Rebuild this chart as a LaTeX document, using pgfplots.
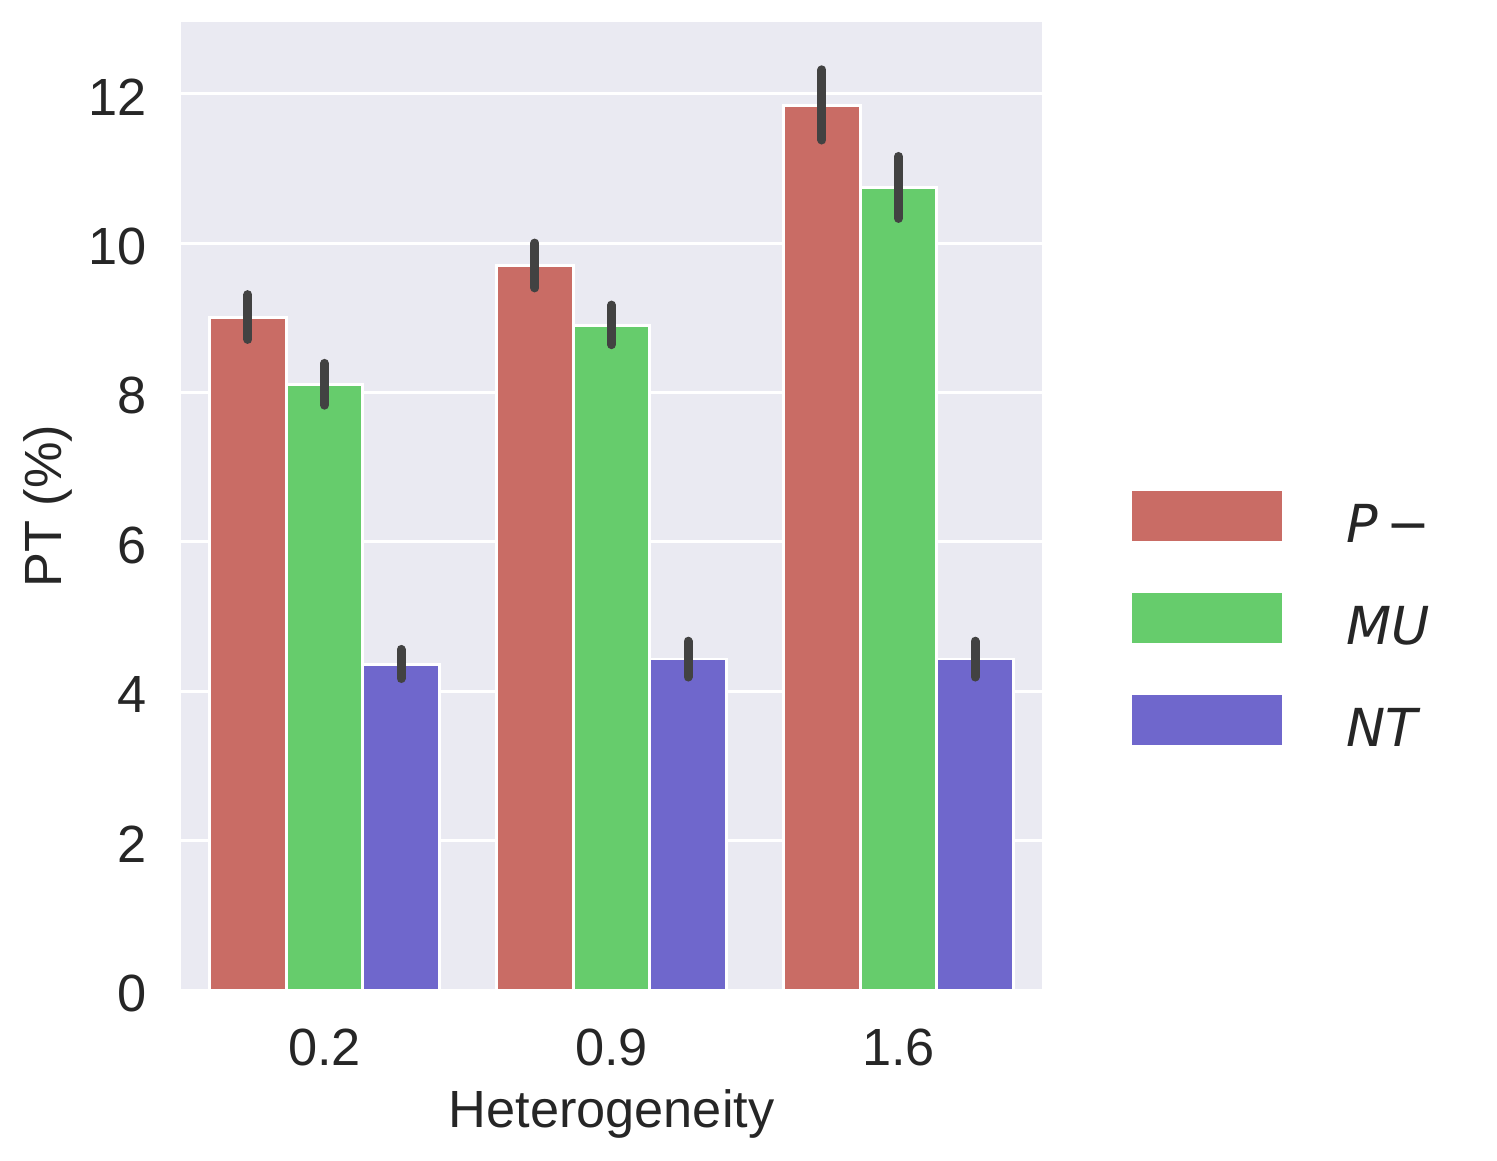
\documentclass[border=0pt]{standalone}
\usepackage{fontspec}
\setmainfont{Liberation Sans}
\newfontfamily\dv{DejaVu Sans}
\usepackage{pgfplots}
\usepackage{pgfplotstable}
\pgfplotsset{compat=1.18}
\definecolor{cred}{HTML}{C96C65}
\definecolor{cgreen}{HTML}{66CC6C}
\definecolor{cblue}{HTML}{6F67CC}
\definecolor{bgc}{HTML}{EAEAF2}
\definecolor{errc}{HTML}{424242}
\definecolor{txt}{HTML}{262626}
\newcommand{\fs}{\fontsize{15.7}{18.8}\selectfont}
\pgfplotstableread{
x y ep em
0 9.00 0.31 0.29
1 9.70 0.30 0.30
2 11.84 0.48 0.46
}\Pminus
\pgfplotstableread{
x y ep em
0 8.11 0.28 0.28
1 8.90 0.27 0.26
2 10.745 0.415 0.415
}\MU
\pgfplotstableread{
x y ep em
0 4.36 0.20 0.19
1 4.43 0.24 0.24
2 4.43 0.24 0.24
}\NT
\pgfplotsset{ybar legend/.style={/pgfplots/legend image code/.code={%
  \fill[##1,draw=none] (0pt,-5.5pt) rectangle (45pt,9.5pt);
  \path[fill=none,draw=none] (0pt,-13.3pt) rectangle (64.4pt,17.3pt);}}}
\begin{document}
\begin{tikzpicture}
\useasboundingbox (-54.3pt,-51pt) rectangle (394.8pt,297pt);
\begin{axis}[
  at={(0,0)}, anchor=south west,
  scale only axis, width=258.3pt, height=290.4pt,
  xmin=-0.5, xmax=2.5, ymin=0, ymax=12.96,
  xtick={0,1,2}, xticklabels={0.2,0.9,1.6},
  ytick={0,2,4,6,8,10,12},
  axis background/.style={fill=bgc},
  axis line style={draw=none},
  major tick length=0pt,
  ymajorgrids, grid style={white, line width=0.9pt},
  tick label style={font=\fs, text=txt},
  /pgf/number format/assume math mode=true,
  yticklabel style={inner sep=0pt, anchor=east, xshift=-10pt, yshift=-1pt},
  xticklabel style={inner sep=0pt, anchor=base, yshift=-22.5pt},
  xlabel={Heterogeneity}, ylabel={PT (\%)},
  label style={font=\fs, text=txt, inner sep=0pt},
  xlabel style={at={(axis description cs:0.5,0)}, anchor=base, yshift=-41.1pt},
  ylabel style={at={(axis description cs:-0.1385,0.5)}, anchor=base, rotate=0},
  ybar, bar width=0.2667,
  legend style={draw=none, fill=none, inner sep=0pt, outer sep=0pt,
    row sep=0pt, column sep=0pt, cells={anchor=base},
    nodes={inner sep=0pt, text depth=0pt, font=\fs, text=txt},
    at={(1.1045,0.3838)}, anchor=west},
  legend cell align=left,
  error bars/error bar style={line width=2.7pt, color=errc, line cap=round},
]
\addplot[fill=cred, draw=white, line width=0.8pt, bar shift=-0.2667,
  error bars/.cd, y dir=both, y explicit, error mark=none]
  table[x=x, y=y, y error plus=ep, y error minus=em] {\Pminus};
\addplot[fill=cgreen, draw=white, line width=0.8pt, bar shift=0,
  error bars/.cd, y dir=both, y explicit, error mark=none]
  table[x=x, y=y, y error plus=ep, y error minus=em] {\MU};
\addplot[fill=cblue, draw=white, line width=0.8pt, bar shift=0.2667,
  error bars/.cd, y dir=both, y explicit, error mark=none]
  table[x=x, y=y, y error plus=ep, y error minus=em] {\NT};
\legend{{\dv\itshape P}\hspace{2.5pt}{\dv −},{\dv\itshape MU},{\dv\itshape NT}}
\end{axis}
\end{tikzpicture}
\end{document}
